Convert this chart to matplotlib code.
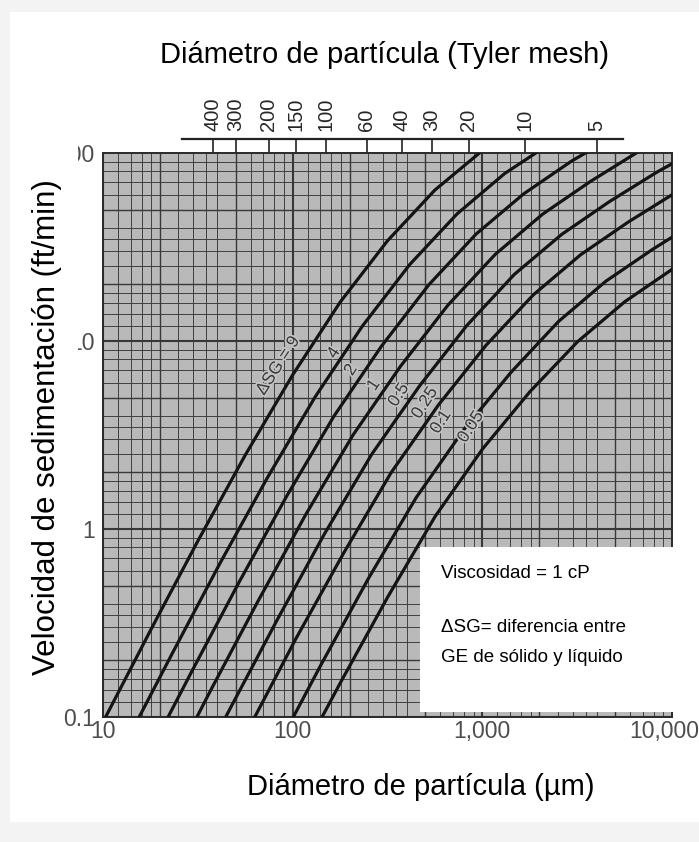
import matplotlib
matplotlib.use("Agg")
import matplotlib.pyplot as plt
import matplotlib.transforms as mtransforms
import matplotlib.patheffects as pe
from matplotlib.patches import Rectangle

plt.rcParams["font.family"] = ["Liberation Sans", "DejaVu Sans"]

d_sg9 = [10.0, 17.8, 31.6, 56.2, 100, 178, 316, 562, 1000]
v_sg9 = [0.094, 0.289, 0.862, 2.47, 6.60, 16.1, 34.1, 63.5, 103]

d_sg4 = [13.1, 23.3, 41.4, 73.7, 131, 233, 414, 737, 1310, 2330]
v_sg4 = [0.072, 0.220, 0.658, 1.88, 5.02, 12.0, 25.5, 47.5, 77.7, 114]

d_sg2 = [16.5, 29.4, 52.2, 92.8, 165, 294, 522, 928, 1651, 2936, 5221]
v_sg2 = [0.057, 0.175, 0.522, 1.49, 3.98, 9.39, 19.9, 37.1, 60.6, 90.2, 127]

d_sg1 = [20.8, 37.0, 65.8, 117, 208, 370, 658, 1170, 2080, 3700, 6579]
v_sg1 = [0.045, 0.139, 0.415, 1.19, 3.16, 7.33, 15.5, 28.9, 47.3, 70.4, 101]

d_sg05 = [26.2, 46.6, 82.9, 147, 262, 466, 829, 1474, 2621, 4661, 8288, 14737]
v_sg05 = [0.036, 0.110, 0.329, 0.941, 2.51, 5.76, 12.1, 22.6, 36.9, 55.0, 78.9, 109]

d_sg025 = [33.0, 58.7, 104, 186, 330, 587, 1044, 1857, 3303, 5873, 10442]
v_sg025 = [0.029, 0.087, 0.261, 0.747, 1.99, 4.57, 9.47, 17.6, 28.8, 42.9, 61.6]

d_sg01 = [79.7, 142, 252, 448, 797, 1417, 2520, 4481, 7968, 14170]
v_sg01 = [0.064, 0.192, 0.550, 1.47, 3.37, 6.82, 12.7, 20.8, 30.9, 44.4]

d_sg005 = [100, 179, 318, 565, 1004, 1786, 3176, 5647, 10041]
v_sg005 = [0.051, 0.153, 0.437, 1.17, 2.67, 5.39, 9.91, 16.2, 24.1]

curves = [(d_sg9, v_sg9), (d_sg4, v_sg4), (d_sg2, v_sg2), (d_sg1, v_sg1),
          (d_sg05, v_sg05), (d_sg025, v_sg025), (d_sg01, v_sg01), (d_sg005, v_sg005)]

sg_labels = ["ΔSG = 9", "4", "2", "1", "0.5", "0.25", "0.1", "0.05"]
label_d = [84, 165, 203, 268, 363, 498, 605, 871]
label_v = [7.4, 8.63, 7.01, 5.83, 5.16, 4.68, 3.71, 3.49]

x_ticks = [10, 100, 1000, 10000]
x_ticklabels = ["10", "100", "1,000", "10,000"]
y_ticks = [0.1, 1, 10, 100]
y_ticklabels = ["0.1", "1", "10", "100"]

# Tyler mesh -> ouverture en µm (position sur l'échelle du haut)
mesh_labels = ["400", "300", "200", "150", "100", "60", "40", "30", "20", "10", "5"]
mesh_um = [38, 50, 75, 104, 150, 246, 375, 542, 850, 1680, 4000]
mesh_line = [26, 5500]

# ── Figure ───────────────────────────────────────────────────────────────────
fig = plt.figure(figsize=(6.99, 8.42), dpi=100)
fig.patch.set_facecolor("#f3f3f3")
fig.add_artist(Rectangle((10 / 699, 20 / 842), 689 / 699, 810 / 842,
                         transform=fig.transFigure, facecolor="white",
                         edgecolor="none", zorder=-1))

ax = fig.add_axes([103 / 699, 1 - 717 / 842, 569 / 699, 564 / 842])
ax.set_xscale("log")
ax.set_yscale("log")
ax.set_xlim(10, 10000)
ax.set_ylim(0.1, 100)
ax.set_facecolor("#b9b9b9")

# papier log : grille dense
subs = [1, 1.2, 1.4, 1.6, 1.8, 2, 2.5, 3, 3.5, 4, 5, 6, 7, 8, 9]
for dec in [10, 100, 1000]:
    for s in subs:
        lw = 1.5 if s == 1 else (1.0 if s in (2, 5) else 0.65)
        ax.axvline(dec * s, color="#383838", lw=lw, zorder=1)
for dec in [0.1, 1, 10]:
    for s in subs:
        lw = 1.5 if s == 1 else (1.0 if s in (2, 5) else 0.65)
        ax.axhline(dec * s, color="#383838", lw=lw, zorder=1)

for d, v in curves:
    ax.plot(d, v, color="#141414", lw=2.3, zorder=3, solid_joinstyle="round")

for txt, xd, yv in zip(sg_labels, label_d, label_v):
    ax.text(xd, yv, txt, rotation=57, fontsize=12.5, color="#3a3a3a",
            ha="center", va="center", zorder=4, rotation_mode="anchor",
            path_effects=[pe.withStroke(linewidth=2.5, foreground="#c4c4c4")])

for sp in ax.spines.values():
    sp.set_color("#2a2a2a")
    sp.set_linewidth(1.4)

ax.set_xticks(x_ticks)
ax.set_xticklabels(x_ticklabels)
ax.set_yticks(y_ticks)
ax.set_yticklabels(y_ticklabels)
ax.minorticks_off()
ax.tick_params(length=0, labelsize=16.5, labelcolor="#4d4d4d")
ax.tick_params(axis="x", pad=2)
ax.tick_params(axis="y", pad=6)
last = ax.get_xticklabels()[-1]
last.set_transform(last.get_transform() +
                   mtransforms.ScaledTranslation(-0.08, 0, fig.dpi_scale_trans))

# échelle Tyler mesh en haut
trans = mtransforms.blended_transform_factory(ax.transData, ax.transAxes)
y_line = 1 + 14 / 564
ax.plot(mesh_line, [y_line, y_line], color="#222222", lw=1.6,
        transform=trans, clip_on=False)
for m, lab in zip(mesh_um, mesh_labels):
    ax.plot([m, m], [1, y_line], color="#222222", lw=1.2,
            transform=trans, clip_on=False)
    ax.text(m, y_line + 8 / 564, lab, rotation=90, fontsize=14.5,
            color="#262626", ha="center", va="bottom", transform=trans)

# encadré
ax.add_patch(Rectangle((0.557, 0.009), 0.45, 0.292, transform=ax.transAxes,
                       facecolor="white", edgecolor="none", zorder=5,
                       clip_on=False))
fig.text(441 / 699, 1 - 573 / 842, "Viscosidad = 1 cP", fontsize=13.5,
         va="center", zorder=6)
fig.text(441 / 699, 1 - 627 / 842, "ΔSG= diferencia entre", fontsize=13.5,
         va="center", zorder=6)
fig.text(441 / 699, 1 - 657 / 842, "GE de sólido y líquido", fontsize=13.5,
         va="center", zorder=6)

# bandeau blanc derrière le titre de l'axe y
fig.add_artist(Rectangle((10 / 699, 1 - 700 / 842), 68 / 699, 580 / 842,
                         transform=fig.transFigure, facecolor="white",
                         edgecolor="none", zorder=5))
fig.text(47 / 699, 1 - 427 / 842, "Velocidad de sedimentación (ft/min)",
         rotation=90, fontsize=22.5, ha="center", va="center", zorder=6)

fig.text(385 / 699, 1 - 55 / 842, "Diámetro de partícula (Tyler mesh)",
         fontsize=21, ha="center", va="center")
fig.text(421 / 699, 1 - 787 / 842, "Diámetro de partícula (µm)",
         fontsize=21, ha="center", va="center")

fig.savefig("out.png", dpi=100)
